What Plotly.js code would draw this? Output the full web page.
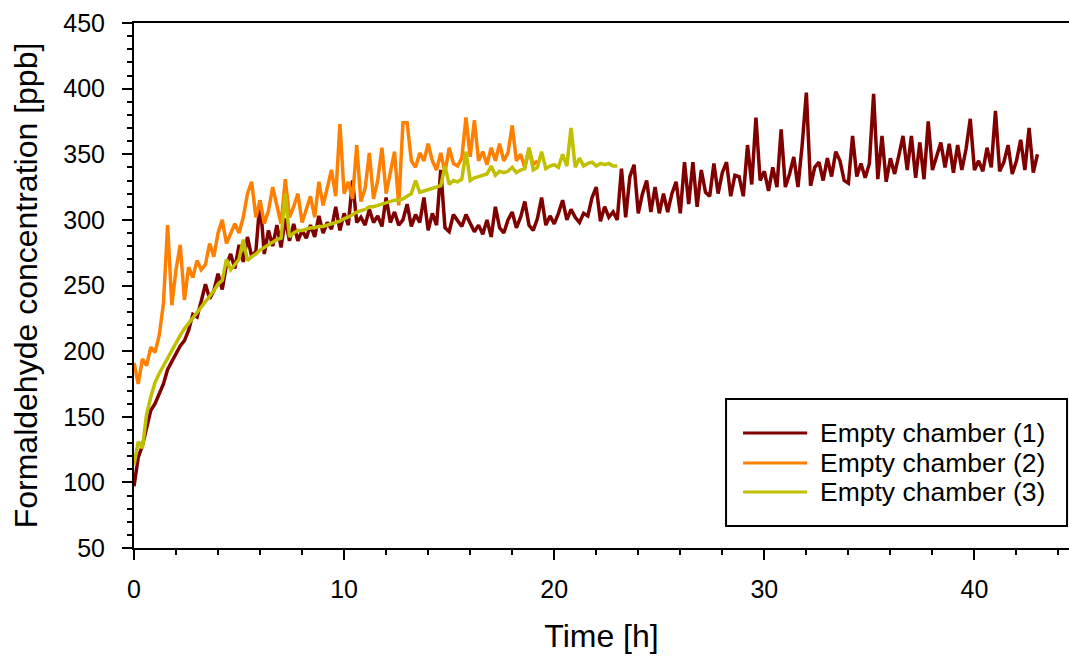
<!DOCTYPE html>
<html>
<head>
<meta charset="utf-8">
<script src="https://cdn.plot.ly/plotly-3.0.1.min.js"></script>
<style>
  html, body { margin: 0; padding: 0; background: #ffffff; }
  #chart { width: 1069px; height: 659px; }
</style>
</head>
<body>
<div id="chart"></div>
<script>
// ---- Data ----
const seriesNames = ["Empty chamber (1)", "Empty chamber (2)", "Empty chamber (3)"];
const seriesColors = ["#800000", "#ff8000", "#c0c000"];
const timeStep = 0.2; // hours between samples

// Empty chamber (1): t = 0 .. 43 h
const chamber1 = [
  97,119,128,143,155,160,167,175,186,192,
  198,204,208,216,228,226,238,251,240,246,
  259,247,266,274,263,281,268,287,272,276,
  315,274,292,280,296,279,301,284,297,284,
  292,286,296,287,303,290,298,293,310,292,
  305,296,330,298,302,296,308,298,303,295,
  317,298,306,296,300,312,295,304,298,317,
  292,305,296,338,294,291,304,300,295,304,
  298,291,296,289,300,287,310,294,290,300,
  306,294,302,314,296,292,301,317,296,303,
  297,305,315,300,308,302,298,305,303,317,
  325,299,310,302,306,300,339,302,333,342,
  305,320,330,306,325,305,320,306,320,329,
  305,344,312,344,310,338,321,318,343,320,
  336,344,318,334,333,318,357,327,378,330,
  337,322,340,325,369,325,335,348,325,357,
  397,326,340,344,330,347,333,352,345,330,
  328,364,333,343,332,343,396,331,364,329,
  347,335,349,364,338,364,332,359,331,375,
  338,349,359,340,358,336,357,338,354,377,
  338,345,337,355,340,383,337,344,357,335,
  345,361,338,370,336,350
];

// Empty chamber (2): t = 0 .. 19.2 h
const chamber2 = [
  191,175,194,189,203,199,212,236,296,235,
  262,281,239,264,256,269,262,266,282,272,
  290,300,282,290,297,290,302,320,329,302,
  315,297,307,325,312,297,331,302,310,320,
  298,309,318,302,329,311,324,338,318,373,
  320,329,316,357,314,324,351,316,330,355,
  320,335,352,311,374,374,345,340,351,345,
  358,345,338,351,336,355,343,341,347,378,
  348,376,345,352,342,355,345,358,345,351,
  372,345,350,340,354,342,345
];

// Empty chamber (3): t = 0 .. 23 h
const chamber3 = [
  113,131,126,152,165,176,183,189,194,200,
  206,212,217,221,226,230,234,238,242,246,
  251,254,270,262,266,270,285,269,272,274,
  277,279,281,283,285,286,320,287,290,292,
  292,293,294,294,295,295,296,297,298,299,
  301,302,304,306,307,308,310,310,311,312,
  313,314,315,315,316,318,320,330,321,322,
  323,324,325,326,341,327,330,329,331,352,
  330,332,333,334,335,341,334,337,336,337,
  340,336,338,339,355,338,340,352,339,341,
  342,340,350,341,370,340,347,341,343,344,
  341,343,342,343,341,341
];

const xTickVals = [0, 10, 20, 30, 40];
const yTickVals = [50, 100, 150, 200, 250, 300, 350, 400, 450];
const xTitle = "Time [h]";
const yTitle = "Formaldehyde concentration [ppb]";

// ---- Build traces ----
const allSeries = [chamber1, chamber2, chamber3];
const traces = allSeries.map((vals, k) => ({
  type: "scatter",
  mode: "lines",
  name: seriesNames[k],
  x: vals.map((_, i) => +(i * timeStep).toFixed(2)),
  y: vals,
  line: { color: seriesColors[k], width: 3.5 },
  showlegend: false,
  hoverinfo: "x+y+name"
}));

// ---- Manual legend (box, sample lines, labels) ----
const legX0 = 0.6332, legX1 = 0.9979, legY0 = 0.0419, legY1 = 0.2838;
const legRows = [0.219, 0.1619, 0.1067];
const shapes = [{
  type: "rect", xref: "paper", yref: "paper",
  x0: legX0, x1: legX1, y0: legY0, y1: legY1,
  line: { color: "#000000", width: 2 }, fillcolor: "#ffffff", layer: "above"
}];
const annotations = [];
seriesNames.forEach((nm, k) => {
  shapes.push({
    type: "line", xref: "paper", yref: "paper",
    x0: 0.6514, x1: 0.7200, y0: legRows[k], y1: legRows[k],
    line: { color: seriesColors[k], width: 3 }, layer: "above"
  });
  annotations.push({
    xref: "paper", yref: "paper", x: 0.7315, y: legRows[k],
    xanchor: "left", yanchor: "middle", showarrow: false,
    text: nm, font: { family: "Liberation Sans, Arial, sans-serif", size: 26.5, color: "#000000" }
  });
});

const fontFam = "Liberation Sans, Arial, sans-serif";
const layout = {
  width: 1069, height: 659,
  margin: { l: 134, r: 0, t: 23, b: 111, pad: 0 },
  paper_bgcolor: "#ffffff", plot_bgcolor: "#ffffff",
  showlegend: false,
  font: { family: fontFam, color: "#000000" },
  xaxis: {
    range: [0, 44.5],
    tickmode: "array", tickvals: xTickVals,
    ticks: "outside", ticklen: 10, tickwidth: 2, tickcolor: "#000000",
    minor: { dtick: 2, tick0: 0, ticks: "outside", ticklen: 5, tickwidth: 2, tickcolor: "#000000", showgrid: false },
    showline: true, linecolor: "#000000", linewidth: 2, mirror: true,
    showgrid: false, zeroline: false,
    tickfont: { family: fontFam, size: 25, color: "#000000" },
    ticklabelstandoff: 8,
    title: { text: xTitle, font: { family: fontFam, size: 32, color: "#000000" }, standoff: 23 }
  },
  yaxis: {
    range: [50, 450],
    tickmode: "array", tickvals: yTickVals,
    ticks: "outside", ticklen: 10, tickwidth: 2, tickcolor: "#000000",
    minor: { dtick: 10, tick0: 0, ticks: "outside", ticklen: 5, tickwidth: 2, tickcolor: "#000000", showgrid: false },
    showline: true, linecolor: "#000000", linewidth: 2, mirror: false,
    showgrid: false, zeroline: false,
    tickfont: { family: fontFam, size: 25, color: "#000000" },
    ticklabelstandoff: 12,
    title: { text: yTitle, font: { family: fontFam, size: 32, color: "#000000" }, standoff: 16 }
  },
  shapes: shapes,
  annotations: annotations
};

Plotly.newPlot("chart", traces, layout, { staticPlot: true, displayModeBar: false });
</script>
</body>
</html>
